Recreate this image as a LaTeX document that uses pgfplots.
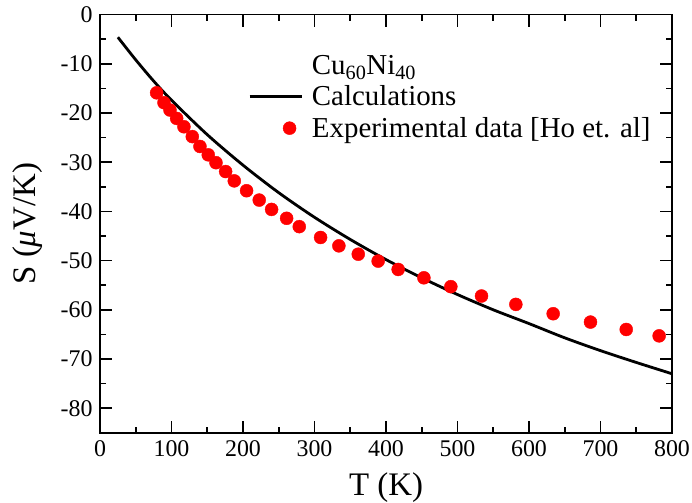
\documentclass[border=0pt]{standalone}
\usepackage{fontspec}
\setmainfont{Liberation Serif}
\usepackage{pgfplots}
\pgfplotsset{compat=1.18}
\usetikzlibrary{calc}
\pgfplotsset{
  lineleg/.style={legend image code/.code={\draw[##1] (0bp,0bp) -- (52bp,0bp);}},
  dotleg/.style={legend image code/.code={\path (0bp,0bp) (52bp,0bp); \draw[##1] plot coordinates {(40bp,0bp)};}},
}

\begin{document}
\begin{tikzpicture}
\begin{axis}[
  name=ax,
  scale only axis,
  width=572bp, height=418.2bp,
  xmin=0, xmax=800, ymin=-85, ymax=0,
  xtick={0,100,...,800},
  ytick={-80,-70,...,0},
  minor xtick={50,150,...,750},
  minor ytick={-85,-75,...,-5},
  tick align=inside,
  major tick length=12bp,
  minor tick length=6bp,
  axis line style={line width=1.8bp},
  every tick/.style={line width=1.6bp, black},
  /pgf/number format/assume math mode=true,
  /pgf/number format/1000 sep={},
  tick label style={font=\fontsize{24}{24}\selectfont},
  xticklabel style={yshift=-4bp},
  yticklabel style={xshift=-4bp},
  every axis x label/.style={at={(rel axis cs:0.5,-0.131)}, anchor=center},
  every axis y label/.style={at={(rel axis cs:-0.126,0.5)}, rotate=90, anchor=center},
  label style={font=\fontsize{33}{33}\selectfont},
  xlabel={T (K)},
  ylabel={S (\textit{μ}V/K)},
  legend style={at={(rel axis cs:0.2587,0.908)}, anchor=north west, draw=none, fill=none,
    inner sep=0pt, row sep=6bp, cells={anchor=west},
    /tikz/every odd column/.append style={column sep=7bp},
    font=\fontsize{29}{31}\selectfont},
]
\addlegendimage{empty legend}
\addlegendentry{Cu\textsubscript{60}Ni\textsubscript{40}}

\addplot[black, line width=2.8bp, smooth, lineleg]
coordinates {
(25,-4.6) (50,-9.2) (75,-13.5) (100,-17.4) (150,-24.4) (200,-30.6)
(250,-36.2) (300,-41.2) (350,-45.7) (400,-49.8) (450,-53.5) (500,-56.9)
(550,-60.0) (600,-62.8) (650,-65.7) (700,-68.3) (750,-70.7) (800,-73.0)
};
\addlegendentry{Calculations}

\addplot[only marks, mark=*, mark size=6.5bp, color=red, fill=red, dotleg]
coordinates {
(79.2,-15.9) (89.5,-17.9) (97.9,-19.4) (107.2,-21.1) (117.4,-22.8)
(129.1,-24.8) (139.8,-26.8) (151.4,-28.5) (162.2,-30.1) (175.7,-31.9)
(187.8,-33.8) (205,-35.8) (222.7,-37.7) (240,-39.6) (261,-41.4)
(278.7,-43.1) (308.5,-45.3) (334.1,-47.0) (361.2,-48.7) (389,-50.1)
(417,-51.8) (453,-53.5) (490.7,-55.3) (533.6,-57.2) (581.6,-58.9)
(633.8,-60.8) (686,-62.5) (736,-64.0) (782,-65.3)
};
\addlegendentry{Experimental data [Ho et. al]}
\end{axis}
\pgfresetboundingbox
\path ($(ax.south west)+(-100bp,-70.2bp)$) rectangle ($(ax.north east)+(20bp,14.6bp)$);
\end{tikzpicture}
\end{document}
